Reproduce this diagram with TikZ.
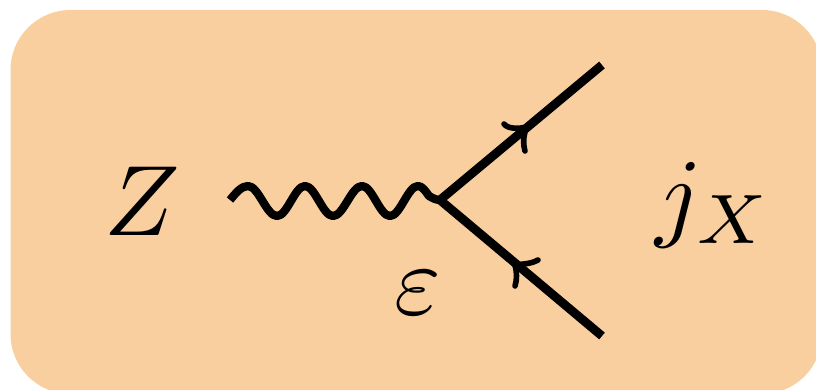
\documentclass[tikz,border=0pt]{standalone}
\definecolor{boxfill}{HTML}{F9CF9F}
\tikzset{
  px/.style={x=0.75pt,y=-0.75pt},
  fermion/.style={line width=6.6pt,line cap=butt,black},
  boson/.style={line width=6.2pt,line cap=butt,line join=round,black},
  barb/.style={line width=4.2pt,line cap=round,black},
  lab/.style={inner sep=0pt,outer sep=0pt,scale=7.5,black}
}
\begin{document}
\begin{tikzpicture}[px]
\useasboundingbox (0,0) rectangle (816,389);
\clip (0,0) rectangle (816,389);
\fill[boxfill,rounded corners=45pt] (10.5,10) rectangle (822,394);
\node[lab] (Z) at (142,201) {$Z$};
\node[lab] (J) at (714,205) {$j_X$};
\node[lab] (E) at (418,293) {$\varepsilon$};
\coordinate (V) at (440,200);
\coordinate (W) at (230,200);
\coordinate (A) at (602,65);
\coordinate (B) at (602,336);
\coordinate (AT) at (527,127);
\coordinate (BT) at (515,265);
\draw[fermion] (V) -- (A);
\draw[fermion] (V) -- (B);
\draw[boson] (W) sin (248,186) cos (262.5,201) sin (277,216) cos (291,201) sin (305,186) cos (319,201) sin (333,216) cos (347.5,201) sin (362,186) cos (376,201) sin (390,216) cos (404,201) sin (418,186) cos (429,196) sin (V);
\draw[barb] (504,124) .. controls (508,129) and (518,129) .. (AT) .. controls (523,135) and (523,144) .. (525,151);
\draw[barb] (538,260) .. controls (531,264) and (522,264) .. (BT) .. controls (517,272) and (517,280) .. (515,286);
\end{tikzpicture}
\end{document}
